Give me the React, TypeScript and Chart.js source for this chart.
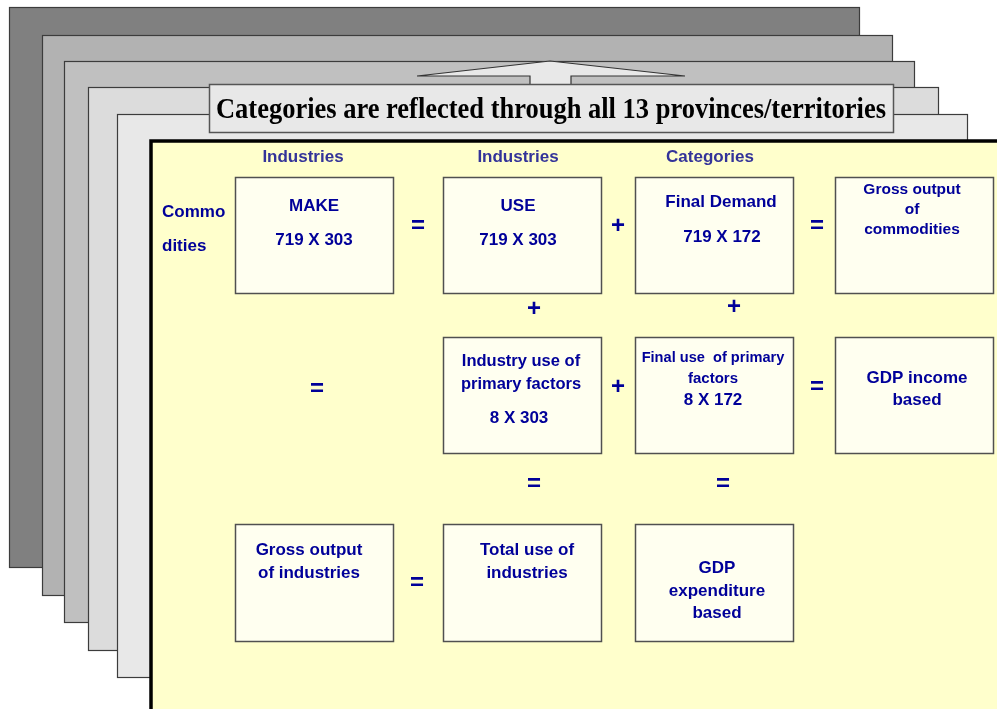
import React, { useEffect, useRef } from "react";
import { Chart, registerables } from "chart.js";

Chart.register(...registerables);

// ---- diagram data (in diagram units, 0..997 x 0..709) ----
const pageLayers = [
  [9, 7, 859, 567],
  [42, 35, 892, 595],
  [64, 61, 914, 622],
  [88, 87, 938, 650],
  [117, 114, 967, 677],
];
const pageShades = ["#808080", "#b2b2b2", "#c0c0c0", "#dcdcdc", "#e8e8e8"];

const titleText = "Categories are reflected through all 13 provinces/territories";
const titleBox = [209, 84, 893, 132];
const arrowOutline = [
  [417, 76], [550, 61], [685, 76], [571, 76], [571, 86], [530, 86], [530, 76],
];
const panelRect = [151, 141, 1000, 712];

const boxColumns = [[235, 393], [443, 601], [635, 793], [835, 993]];
const boxRows = [[177, 293], [337, 453], [524, 641]];
// [column, row]
const boxCells = [
  [0, 0], [1, 0], [2, 0], [3, 0],
  [1, 1], [2, 1], [3, 1],
  [0, 2], [1, 2], [2, 2],
];

// text lines: [text, x, y, size]
const boxTexts: [string, number, number, number][] = [
  ["MAKE", 314, 206, 17], ["719 X 303", 314, 240, 17],
  ["USE", 518, 206, 17], ["719 X 303", 518, 240, 17],
  ["Final Demand", 721, 202, 17], ["719 X 172", 722, 237, 17],
  ["Gross output", 912, 190, 15.5], ["of", 912, 210, 15.5], ["commodities", 912, 230, 15.5],
  ["Industry use of", 521, 361, 16.5], ["primary factors", 521, 384, 16.5], ["8 X 303", 519, 418, 17],
  ["Final use  of primary", 713, 358, 14.6], ["factors", 713, 379, 15], ["8 X 172", 713, 400, 17],
  ["GDP income", 917, 378, 17], ["based", 917, 400, 17],
  ["Gross output", 309, 550, 17], ["of industries", 309, 573, 17],
  ["Total use of", 527, 550, 17], ["industries", 527, 573, 17],
  ["GDP", 717, 568, 17], ["expenditure", 717, 591, 17], ["based", 717, 613, 17],
];
const headerTexts: [string, number, number][] = [
  ["Industries", 303, 157],
  ["Industries", 518, 157],
  ["Categories", 710, 157],
];
const sideTexts: [string, number, number][] = [
  ["Commo", 162, 212],
  ["dities", 162, 246],
];
// operators: [symbol, x, y]
const operators: [string, number, number][] = [
  ["=", 418, 226], ["+", 618, 226], ["=", 817, 226],
  ["+", 534, 309], ["+", 734, 307],
  ["=", 317, 389], ["+", 618, 387], ["=", 817, 387],
  ["=", 534, 484], ["=", 723, 484],
  ["=", 417, 583],
];

const SANS = '"Liberation Sans", Arial, sans-serif';
const SERIF = '"Liberation Serif", "Times New Roman", serif';

const diagramPlugin = {
  id: "diagram",
  afterDraw(chart: any) {
    const { ctx } = chart;
    const xs = chart.scales.x;
    const ys = chart.scales.y;
    const px = (v: number) => xs.getPixelForValue(v);
    const py = (v: number) => ys.getPixelForValue(v);
    const rect = (r: number[], fill: string, stroke: string | null, lw: number) => {
      const x0 = px(r[0]), y0 = py(r[1]), x1 = px(r[2]), y1 = py(r[3]);
      ctx.fillStyle = fill;
      ctx.fillRect(x0, y0, x1 - x0, y1 - y0);
      if (stroke) {
        ctx.strokeStyle = stroke;
        ctx.lineWidth = lw;
        ctx.strokeRect(x0 + 0.5, y0 + 0.5, x1 - x0, y1 - y0);
      }
    };
    ctx.save();

    // stacked pages
    pageLayers.forEach((r, i) => rect(r, pageShades[i], "#3c3c3c", 1.2));

    // arrow
    ctx.beginPath();
    arrowOutline.forEach(([ax, ay], i) => {
      if (i === 0) ctx.moveTo(px(ax), py(ay));
      else ctx.lineTo(px(ax), py(ay));
    });
    ctx.closePath();
    ctx.fillStyle = "#e8e8e8";
    ctx.fill();
    ctx.strokeStyle = "#333333";
    ctx.lineWidth = 1.2;
    ctx.stroke();

    // title box
    rect(titleBox, "#e8e8e8", "#555555", 1.5);
    ctx.fillStyle = "#000000";
    ctx.textAlign = "center";
    ctx.textBaseline = "alphabetic";
    const fs = 29;
    ctx.font = `bold ${fs}px ${SERIF}`;
    const w = ctx.measureText(titleText).width;
    const sx = 670 / w;
    ctx.save();
    ctx.translate(px(551), py(118));
    ctx.scale(sx, 1);
    ctx.fillText(titleText, 0, 0);
    ctx.restore();
    ctx.textBaseline = "middle";

    // main panel
    rect(panelRect, "#ffffcc", null, 0);
    ctx.strokeStyle = "#000000";
    ctx.lineWidth = 3.5;
    ctx.beginPath();
    ctx.moveTo(px(panelRect[0]), py(panelRect[3]));
    ctx.lineTo(px(panelRect[0]), py(panelRect[1]));
    ctx.lineTo(px(panelRect[2]), py(panelRect[1]));
    ctx.stroke();

    // boxes
    boxCells.forEach(([c, r]) => {
      const cr = boxColumns[c], rr = boxRows[r];
      rect([cr[0], rr[0], cr[1], rr[1]], "#fffff0", "#505050", 1.5);
    });

    // header texts
    ctx.fillStyle = "#333399";
    ctx.font = `bold 17px ${SANS}`;
    ctx.textAlign = "center";
    headerTexts.forEach(([t, x, y]) => ctx.fillText(t, px(x), py(y)));

    ctx.fillStyle = "#000099";
    ctx.textAlign = "left";
    sideTexts.forEach(([t, x, y]) => ctx.fillText(t, px(x), py(y)));

    ctx.textAlign = "center";
    boxTexts.forEach(([t, x, y, s]) => {
      ctx.font = `bold ${s}px ${SANS}`;
      ctx.fillText(t, px(x), py(y));
    });

    ctx.font = `bold 24px ${SANS}`;
    operators.forEach(([t, x, y]) => ctx.fillText(t, px(x), py(y)));

    ctx.restore();
  },
};

export default function App() {
  const ref = useRef<HTMLCanvasElement>(null);
  useEffect(() => {
    if (!ref.current) return;
    const chart = new Chart(ref.current, {
      type: "scatter",
      data: { datasets: [] },
      options: {
        responsive: false,
        animation: false,
        events: [],
        layout: { padding: 0 },
        plugins: { legend: { display: false }, tooltip: { enabled: false } },
        scales: {
          x: { type: "linear", min: 0, max: 997, display: false },
          y: { type: "linear", min: 0, max: 709, reverse: true, display: false },
        },
      },
      plugins: [diagramPlugin],
    } as any);
    return () => chart.destroy();
  }, []);
  return (
    <div style={{ position: "fixed", left: 0, top: 0, width: 997, height: 709, background: "#ffffff" }}>
      <canvas ref={ref} width={997} height={709} style={{ display: "block" }} />
    </div>
  );
}
